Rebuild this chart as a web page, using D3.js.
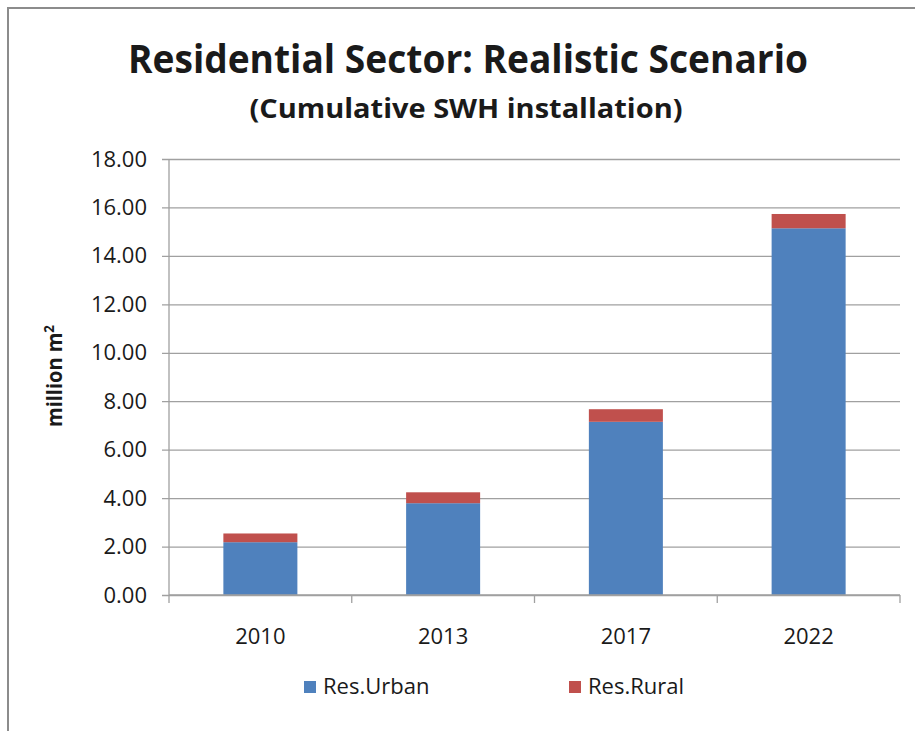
<!DOCTYPE html>
<html lang="en">
<head>
<meta charset="utf-8">
<title>Residential Sector: Realistic Scenario</title>
<script type="text/javascript" src="https://cdn.jsdelivr.net/npm/d3@7"></script>
<style>
  body { margin: 0; background: #fff; }
  text { font-family: "Open Sans", sans-serif; fill: #1a1a1a; }
</style>
</head>
<body>
<div id="chart"></div>
<script>
  // values
  const years = ["2010", "2013", "2017", "2022"];
  const resUrban = [2.18, 3.79, 7.15, 15.14];
  const resRural = [0.36, 0.45, 0.52, 0.59];
  const seriesNames = ["Res.Urban", "Res.Rural"];
  const yTicks = [0, 2, 4, 6, 8, 10, 12, 14, 16, 18];

  const w = 915, h = 731;
  const plotLeft = 169, plotRight = 900, plotTop = 159, plotBottom = 595;
  const colors = ["#4f81bd", "#c0504d"];

  let data = years.map((y, i) => ({ year: y, urban: resUrban[i], rural: resRural[i] }));
  let stack = d3.stack().keys(["urban", "rural"])(data);

  let svg = d3.select("#chart")
    .append("svg")
    .attr("width", w)
    .attr("height", h);

  // outer chart border
  svg.append("rect")
    .attr("x", 8).attr("y", 8)
    .attr("width", w + 20).attr("height", h + 20)
    .attr("fill", "none")
    .attr("stroke", "#8c8c8c")
    .attr("stroke-width", 2);

  let xScale = d3.scaleBand()
    .domain(years)
    .range([plotLeft, plotRight]);

  let yScale = d3.scaleLinear()
    .domain([0, 18])
    .range([plotBottom, plotTop]);

  // gridlines + y axis
  let yAxis = d3.axisLeft(yScale)
    .tickValues(yTicks)
    .tickSize(-(plotRight - plotLeft))
    .tickSizeOuter(0)
    .tickPadding(22)
    .tickFormat(d3.format(".2f"));

  let gy = svg.append("g")
    .attr("transform", `translate(${plotLeft},0)`)
    .call(yAxis);
  gy.select(".domain").remove();
  gy.selectAll(".tick line")
    .attr("x1", -7)
    .attr("stroke", "#a0a0a0")
    .attr("stroke-width", 1.3);
  gy.selectAll(".tick text")
    .attr("font-size", 22)
    .attr("font-family", "Open Sans, sans-serif")
    .attr("fill", "#1a1a1a");

  // bars
  let barW = xScale.bandwidth() * 0.405;
  svg.append("g")
    .selectAll("g")
    .data(stack)
    .enter()
    .append("g")
      .attr("fill", (d, i) => colors[i])
    .selectAll("rect")
    .data(d => d)
    .enter()
    .append("rect")
      .attr("x", d => xScale(d.data.year) + (xScale.bandwidth() - barW) / 2)
      .attr("y", d => yScale(d[1]))
      .attr("width", barW)
      .attr("height", d => yScale(d[0]) - yScale(d[1]));

  // y axis line
  svg.append("line")
    .attr("x1", plotLeft).attr("x2", plotLeft)
    .attr("y1", plotTop).attr("y2", plotBottom)
    .attr("stroke", "#a0a0a0")
    .attr("stroke-width", 1.3);

  // x axis with ticks at band edges
  let xAxisG = svg.append("g");
  xAxisG.append("line")
    .attr("x1", plotLeft).attr("x2", plotRight)
    .attr("y1", plotBottom).attr("y2", plotBottom)
    .attr("stroke", "#a0a0a0")
    .attr("stroke-width", 1.3);
  let edges = years.map(y => xScale(y)).concat([plotRight]);
  xAxisG.selectAll(".edge")
    .data(edges)
    .enter()
    .append("line")
      .attr("x1", d => d).attr("x2", d => d)
      .attr("y1", plotBottom).attr("y2", plotBottom + 8)
      .attr("stroke", "#a0a0a0")
      .attr("stroke-width", 1.3);
  xAxisG.selectAll(".lbl")
    .data(years)
    .enter()
    .append("text")
      .attr("x", d => xScale(d) + xScale.bandwidth() / 2)
      .attr("y", 644)
      .attr("text-anchor", "middle")
      .attr("font-size", 22)
      .text(d => d);

  // titles
  svg.append("text")
    .attr("x", 468).attr("y", 73)
    .attr("text-anchor", "middle")
    .attr("font-size", 40)
    .attr("font-weight", "bold")
    .attr("textLength", 680)
    .attr("lengthAdjust", "spacingAndGlyphs")
    .attr("fill", "#000")
    .text("Residential Sector: Realistic Scenario");

  svg.append("text")
    .attr("x", 466).attr("y", 118)
    .attr("text-anchor", "middle")
    .attr("font-size", 26)
    .attr("font-weight", "bold")
    .attr("textLength", 433)
    .attr("lengthAdjust", "spacingAndGlyphs")
    .attr("fill", "#000")
    .text("(Cumulative SWH installation)");

  // y label
  let yl = svg.append("text")
    .attr("transform", "translate(62,376) rotate(-90)")
    .attr("text-anchor", "middle")
    .attr("font-size", 21)
    .attr("font-weight", "bold")
    .attr("textLength", 102)
    .attr("lengthAdjust", "spacingAndGlyphs")
    .attr("fill", "#000");
  yl.append("tspan").text("million m");
  yl.append("tspan").attr("dy", -8).attr("font-size", 14).text("2");

  // legend
  let legendX = [304, 569];
  let lg = svg.append("g")
    .selectAll("g")
    .data(seriesNames)
    .enter()
    .append("g")
      .attr("transform", (d, i) => `translate(${legendX[i]},681)`);
  lg.append("rect")
    .attr("width", 12).attr("height", 12)
    .attr("fill", (d, i) => colors[i]);
  lg.append("text")
    .attr("x", 19).attr("y", 13)
    .attr("font-size", 22)
    .text(d => d);
</script>
</body>
</html>
